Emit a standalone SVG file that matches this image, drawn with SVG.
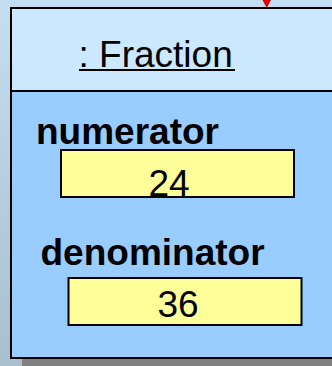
<svg xmlns="http://www.w3.org/2000/svg" width="332" height="366" viewBox="0 0 332 366">
  <defs>
    <linearGradient id="bg" x1="0" y1="0" x2="0" y2="1">
      <stop offset="0" stop-color="#c4def2"/>
      <stop offset="1" stop-color="#a8c0ce"/>
    </linearGradient>
  </defs>
  <style>
    .lbl { font-family: "Liberation Sans", Arial, sans-serif; fill: #000; }
    .title { font-size: 37px; }
    .attr { font-size: 37px; font-weight: bold; }
    .val { font-size: 37px; text-anchor: middle; }
    .slot { fill: #ffff99; stroke: #000; stroke-width: 2; }
    .frame { stroke: #000; stroke-width: 2; }
  </style>
  <rect x="0" y="0" width="332" height="366" fill="url(#bg)"/>
  <g id="connectors">
    <polygon points="262.5,0 271,0 266.7,8" fill="#dd0000"/>
  </g>
  <g id="fraction">
    <rect x="22" y="359" width="320" height="10" fill="#808080"/>
    <rect x="11" y="8" width="330" height="83" fill="#cce8ff" class="frame"/>
    <rect x="11" y="91" width="330" height="267" fill="#99ccff" class="frame"/>
    <text class="lbl title" x="78.5" y="66.5">: Fraction</text>
    <rect x="79" y="69" width="156" height="2" fill="#000"/>
    <g id="numerator">
      <text class="lbl attr" x="36" y="144">numerator</text>
      <rect class="slot" x="61" y="150" width="233" height="47"/>
      <text class="lbl val" x="169" y="196">24</text>
    </g>
    <g id="denominator">
      <text class="lbl attr" x="40.5" y="265">denominator</text>
      <rect class="slot" x="68.5" y="278" width="233" height="47"/>
      <text class="lbl val" x="178" y="316.5">36</text>
    </g>
  </g>
</svg>
